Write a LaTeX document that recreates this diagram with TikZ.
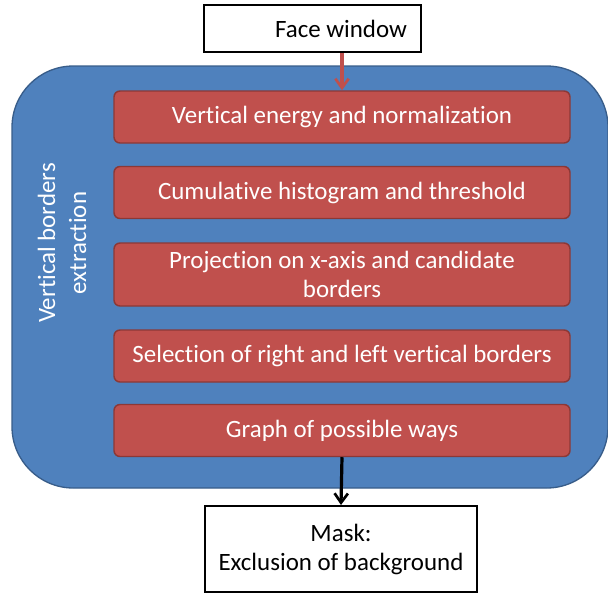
\documentclass[tikz,border=0pt]{standalone}
\usepackage{fontspec}
\setmainfont[Ligatures=NoCommon]{Carlito}
\usepackage{tikz}
\usetikzlibrary{positioning, arrows.meta, calc}

\definecolor{boxblue}{HTML}{4F81BD}
\definecolor{boxblueline}{HTML}{385D8A}
\definecolor{boxred}{HTML}{C0504D}
\definecolor{boxredline}{HTML}{8C3836}

\begin{document}
\begin{tikzpicture}[
    x=0.75pt, y=-0.75pt,
    every node/.style={font=\fontsize{18.7}{21.75}\selectfont},
    container/.style={draw=boxblueline, line width=1pt, fill=boxblue, rounded corners=46pt,
                      minimum width=447pt, minimum height=316.5pt},
    stepbox/.style={draw=boxredline, line width=1.1pt, fill=boxred, text=white, rounded corners=4.5pt,
                    minimum width=342pt, minimum height=39pt, align=center, inner sep=0pt},
    whitebox/.style={draw=black, line width=1.5pt, fill=white, align=center, inner sep=0pt},
    flow/.style={-{Straight Barb[length=7pt, width=10pt, line width=2pt]}, line width=2.4pt},
]
\useasboundingbox (0,0) rectangle (608,593);

% Outer block
\node[container] (frame) at (310,277) {};
\node[text=white, rotate=90, align=center, font=\fontsize{18.7}{23.25}\selectfont] (title) at (62,243)
      {Vertical borders\\extraction};

% Input and output
\node[whitebox, minimum width=162.75pt, minimum height=35.25pt] (face) at (312.5,28.5) {};
\node (facetext) at (341,28.5) {Face window};
\node[whitebox, minimum width=204pt, minimum height=64.5pt] (mask) at (341,549)
      {Mask:\\Exclusion of background};

% Steps
\node[stepbox] (energy) at (342,117) {Vertical energy and normalization};
\node[stepbox] (histo)  at (342,192.5) {Cumulative histogram and threshold};
\node[stepbox, minimum height=47.25pt] (proj) at (342,274.5)
      {Projection on x-axis and candidate\\borders};
\node[stepbox] (select) at (342,356) {Selection of right and left vertical borders};
\node[stepbox] (ways)   at (342,430.5) {Graph of possible ways};

% Arrows
\draw[flow, boxred] (face.south -| energy.north) -- (energy.north);
\draw[flow, black] (ways.south) -- (mask.north);

\end{tikzpicture}
\end{document}
